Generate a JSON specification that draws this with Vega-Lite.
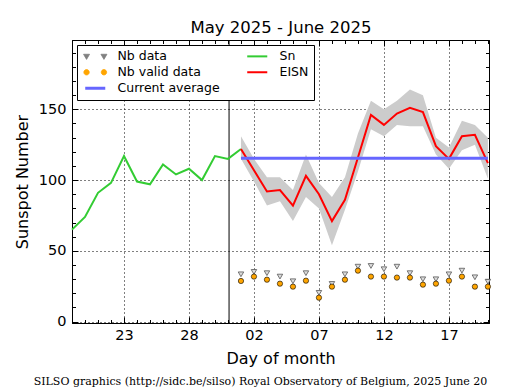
{
  "$schema": "https://vega.github.io/schema/vega-lite/v6.json",
  "width": 417,
  "height": 283,
  "autosize": {"type": "none"},
  "padding": {"left": 72, "top": 40, "right": 26, "bottom": 67},
  "background": "white",
  "title": {
    "text": "SILSO graphics (http://sidc.be/silso) Royal Observatory of Belgium, 2025 June 20",
    "orient": "bottom", "anchor": "middle", "frame": "group", "baseline": "alphabetic",
    "offset": 19, "dx": -20, "font": "DejaVu Serif", "fontSize": 11, "fontWeight": "normal", "color": "black"
  },
  "config": {
    "font": "DejaVu Sans",
    "view": {"stroke": "black", "strokeWidth": 1},
    "axis": {
      "domainColor": "black", "domainWidth": 1, "tickColor": "black", "tickWidth": 1,
      "labelColor": "black", "titleColor": "black",
      "labelFont": "DejaVu Sans", "labelFontSize": 14.5,
      "titleFont": "DejaVu Sans", "titleFontSize": 16, "titleFontWeight": "normal",
      "gridColor": "black", "gridDash": [1, 3], "gridWidth": 1
    }
  },
  "datasets": {
    "sn": [
      {"date": "2025-05-19", "sn": 65},
      {"date": "2025-05-20", "sn": 74},
      {"date": "2025-05-21", "sn": 91},
      {"date": "2025-05-22", "sn": 98},
      {"date": "2025-05-23", "sn": 117},
      {"date": "2025-05-24", "sn": 99},
      {"date": "2025-05-25", "sn": 97},
      {"date": "2025-05-26", "sn": 111},
      {"date": "2025-05-27", "sn": 104},
      {"date": "2025-05-28", "sn": 108},
      {"date": "2025-05-29", "sn": 100},
      {"date": "2025-05-30", "sn": 117},
      {"date": "2025-05-31", "sn": 115},
      {"date": "2025-06-01", "sn": 122}
    ],
    "eisn": [
      {"date": "2025-06-01", "eisn": 122, "lo": 115, "hi": 131, "nb": 33.4, "nbvalid": 28.7},
      {"date": "2025-06-02", "eisn": 107, "lo": 99, "hi": 115, "nb": 35.1, "nbvalid": 31.8},
      {"date": "2025-06-03", "eisn": 92, "lo": 82, "hi": 102, "nb": 34.2, "nbvalid": 29.6},
      {"date": "2025-06-04", "eisn": 93, "lo": 85, "hi": 102, "nb": 31.8, "nbvalid": 26.8},
      {"date": "2025-06-05", "eisn": 82, "lo": 71, "hi": 93, "nb": 28.5, "nbvalid": 24.7},
      {"date": "2025-06-06", "eisn": 103, "lo": 88, "hi": 118, "nb": 34.2, "nbvalid": 28.9},
      {"date": "2025-06-07", "eisn": 90, "lo": 80, "hi": 98, "nb": 20.3, "nbvalid": 16.9},
      {"date": "2025-06-08", "eisn": 71, "lo": 54, "hi": 88, "nb": 26.6, "nbvalid": 24.7},
      {"date": "2025-06-09", "eisn": 86, "lo": 79, "hi": 102, "nb": 33.4, "nbvalid": 29.6},
      {"date": "2025-06-10", "eisn": 116, "lo": 106, "hi": 133, "nb": 38.8, "nbvalid": 36.0},
      {"date": "2025-06-11", "eisn": 146, "lo": 136, "hi": 156, "nb": 39.3, "nbvalid": 31.8},
      {"date": "2025-06-12", "eisn": 139, "lo": 131, "hi": 150, "nb": 37.0, "nbvalid": 31.8},
      {"date": "2025-06-13", "eisn": 147, "lo": 139, "hi": 156, "nb": 38.8, "nbvalid": 31.1},
      {"date": "2025-06-14", "eisn": 151, "lo": 138, "hi": 164, "nb": 34.2, "nbvalid": 31.1},
      {"date": "2025-06-15", "eisn": 148, "lo": 138, "hi": 160, "nb": 29.9, "nbvalid": 26.1},
      {"date": "2025-06-16", "eisn": 124, "lo": 118, "hi": 130, "nb": 29.9, "nbvalid": 26.8},
      {"date": "2025-06-17", "eisn": 115, "lo": 108, "hi": 123, "nb": 33.4, "nbvalid": 28.9},
      {"date": "2025-06-18", "eisn": 131, "lo": 121, "hi": 142, "nb": 36.0, "nbvalid": 31.8},
      {"date": "2025-06-19", "eisn": 132, "lo": 125, "hi": 139, "nb": 31.3, "nbvalid": 24.7},
      {"date": "2025-06-20", "eisn": 112, "lo": 101, "hi": 130, "nb": 28.2, "nbvalid": 24.7}
    ],
    "avg": [{"start": "2025-06-01", "end": "2025-06-20", "value": 115.5}],
    "marker": [{"date": "2025-05-31T02:00:00Z"}]
  },
  "layer": [
    {
      "data": {"name": "eisn"},
      "mark": {"type": "area", "color": "#cccccc", "opacity": 1},
      "encoding": {
        "x": {
          "field": "date", "type": "temporal",
          "scale": {"type": "utc", "domain": [{"year": 2025, "month": 5, "date": 19, "utc": true}, {"year": 2025, "month": 6, "date": 20, "hours": 2, "utc": true}]},
          "axis": {
            "orient": "bottom", "title": "Day of month",
            "tickCount": {"interval": "day", "step": 1},
            "labelExpr": "indexof([2,7,12,17,23,28], utcdate(datum.value)) >= 0 ? utcFormat(datum.value, '%d') : ''",
            "tickSize": {"condition": {"test": "indexof([2,7,12,17,23,28], utcdate(datum.value)) >= 0", "value": -6}, "value": -3.5},
            "grid": true,
            "gridOpacity": {"condition": {"test": "indexof([2,7,12,17,23,28], utcdate(datum.value)) >= 0", "value": 1}, "value": 0},
            "labelOverlap": false, "labelFlush": false, "labelPadding": 11, "titlePadding": 6
          }
        },
        "y": {
          "field": "lo", "type": "quantitative",
          "scale": {"domain": [-1, 199], "nice": false, "zero": false},
          "axis": {
            "orient": "left", "title": "Sunspot Number",
            "values": [0, 10, 20, 30, 40, 50, 60, 70, 80, 90, 100, 110, 120, 130, 140, 150, 160, 170, 180, 190],
            "labelExpr": "datum.value % 50 === 0 ? datum.label : ''",
            "tickSize": {"condition": {"test": "datum.value % 50 === 0", "value": -6}, "value": -3.5},
            "grid": true,
            "gridOpacity": {"condition": {"test": "datum.value % 50 === 0", "value": 1}, "value": 0},
            "labelOverlap": false, "labelFlush": false, "labelPadding": 12, "titlePadding": 8
          }
        },
        "y2": {"field": "hi"}
      }
    },
    {
      "data": {"name": "marker"},
      "mark": {"type": "rule", "color": "black", "strokeWidth": 1},
      "encoding": {
        "x": {"field": "date", "type": "temporal", "axis": null,
          "scale": {"type": "utc", "domain": [{"year": 2025, "month": 5, "date": 19, "utc": true}, {"year": 2025, "month": 6, "date": 20, "hours": 2, "utc": true}]}}
      }
    },
    {
      "data": {"name": "sn"},
      "mark": {"type": "line", "strokeWidth": 2},
      "encoding": {
        "x": {"field": "date", "type": "temporal", "axis": null,
          "scale": {"type": "utc", "domain": [{"year": 2025, "month": 5, "date": 19, "utc": true}, {"year": 2025, "month": 6, "date": 20, "hours": 2, "utc": true}]}},
        "y": {"field": "sn", "type": "quantitative", "axis": null, "scale": {"domain": [-1, 199], "nice": false, "zero": false}},
        "color": {
          "datum": "Sn",
          "scale": {
            "domain": ["Nb data", "Nb valid data", "Current average", "Sn", "EISN"],
            "range": ["#808080", "#ffa500", "#6666ff", "#33cc33", "#ff0000"]
          },
          "legend": {
            "orient": "none", "legendX": 5, "legendY": 5, "columns": 2, "direction": "vertical",
            "title": null, "labelFont": "DejaVu Sans", "labelFontSize": 12.5, "labelColor": "black",
            "symbolSize": 144, "symbolOffset": 7, "labelOffset": 16, "columnPadding": 23, "rowPadding": 3,
            "padding": 5, "strokeColor": "black", "fillColor": "white", "cornerRadius": 0,
            "encode": {
              "symbols": {
                "update": {
                  "shape": {"signal": "datum.value === 'Nb data' ? 'M-1.95,-0.35L-0.95,-0.35L-1.45,0.5ZM0.95,-0.35L1.95,-0.35L1.45,0.5Z' : datum.value === 'Nb valid data' ? 'M-1.9,0A0.45,0.45,0,1,0,-1.0,0A0.45,0.45,0,1,0,-1.9,0ZM1.0,0A0.45,0.45,0,1,0,1.9,0A0.45,0.45,0,1,0,1.0,0Z' : 'M-1.67,0L1.67,0'"},
                  "fill": {"signal": "datum.value === 'Nb data' ? '#dddddd' : datum.value === 'Nb valid data' ? '#ffa500' : 'transparent'"},
                  "stroke": {"signal": "datum.value === 'Nb data' ? '#555555' : datum.value === 'Nb valid data' ? '#000000' : datum.value === 'Sn' ? '#33cc33' : datum.value === 'EISN' ? '#ff0000' : '#6666ff'"},
                  "strokeWidth": {"signal": "datum.value === 'Current average' ? 3 : (datum.value === 'Sn' || datum.value === 'EISN') ? 2 : 0.8"},
                  "size": {"value": 144},
                  "opacity": {"value": 1}
                }
              }
            }
          }
        }
      }
    },
    {
      "data": {"name": "eisn"},
      "mark": {"type": "line", "strokeWidth": 2},
      "encoding": {
        "x": {"field": "date", "type": "temporal", "axis": null,
          "scale": {"type": "utc", "domain": [{"year": 2025, "month": 5, "date": 19, "utc": true}, {"year": 2025, "month": 6, "date": 20, "hours": 2, "utc": true}]}},
        "y": {"field": "eisn", "type": "quantitative", "axis": null, "scale": {"domain": [-1, 199], "nice": false, "zero": false}},
        "color": {"datum": "EISN"}
      }
    },
    {
      "data": {"name": "eisn"},
      "mark": {"type": "point", "shape": "triangle-down", "filled": true, "size": 30, "opacity": 1, "stroke": "#555555", "strokeWidth": 0.8, "fill": "#dddddd"},
      "encoding": {
        "x": {"field": "date", "type": "temporal", "axis": null,
          "scale": {"type": "utc", "domain": [{"year": 2025, "month": 5, "date": 19, "utc": true}, {"year": 2025, "month": 6, "date": 20, "hours": 2, "utc": true}]}},
        "y": {"field": "nb", "type": "quantitative", "axis": null, "scale": {"domain": [-1, 199], "nice": false, "zero": false}},
        "color": {"datum": "Nb data"}
      }
    },
    {
      "data": {"name": "eisn"},
      "mark": {"type": "point", "shape": "circle", "filled": true, "size": 28, "opacity": 1, "stroke": "black", "strokeWidth": 0.6},
      "encoding": {
        "x": {"field": "date", "type": "temporal", "axis": null,
          "scale": {"type": "utc", "domain": [{"year": 2025, "month": 5, "date": 19, "utc": true}, {"year": 2025, "month": 6, "date": 20, "hours": 2, "utc": true}]}},
        "y": {"field": "nbvalid", "type": "quantitative", "axis": null, "scale": {"domain": [-1, 199], "nice": false, "zero": false}},
        "color": {"datum": "Nb valid data"}
      }
    },
    {
      "data": {"name": "avg"},
      "mark": {"type": "rule", "strokeWidth": 3},
      "encoding": {
        "x": {
          "field": "start", "type": "temporal",
          "scale": {"type": "utc", "domain": [{"year": 2025, "month": 5, "date": 19, "utc": true}, {"year": 2025, "month": 6, "date": 20, "hours": 2, "utc": true}]},
          "axis": {
            "orient": "top", "title": "May 2025 - June 2025", "titleFontSize": 16.5, "labels": false, "grid": false,
            "tickCount": {"interval": "day", "step": 1},
            "tickSize": {"condition": {"test": "indexof([2,7,12,17,23,28], utcdate(datum.value)) >= 0", "value": -6}, "value": -3.5},
            "titlePadding": 4
          }
        },
        "x2": {"field": "end"},
        "y": {
          "field": "value", "type": "quantitative",
          "scale": {"domain": [-1, 199], "nice": false, "zero": false},
          "axis": {
            "orient": "right", "title": null, "labels": false, "grid": false,
            "values": [0, 10, 20, 30, 40, 50, 60, 70, 80, 90, 100, 110, 120, 130, 140, 150, 160, 170, 180, 190],
            "tickSize": {"condition": {"test": "datum.value % 50 === 0", "value": -6}, "value": -3.5}
          }
        },
        "color": {"datum": "Current average"}
      }
    }
  ],
  "resolve": {"scale": {"x": "independent", "y": "independent"}}
}
